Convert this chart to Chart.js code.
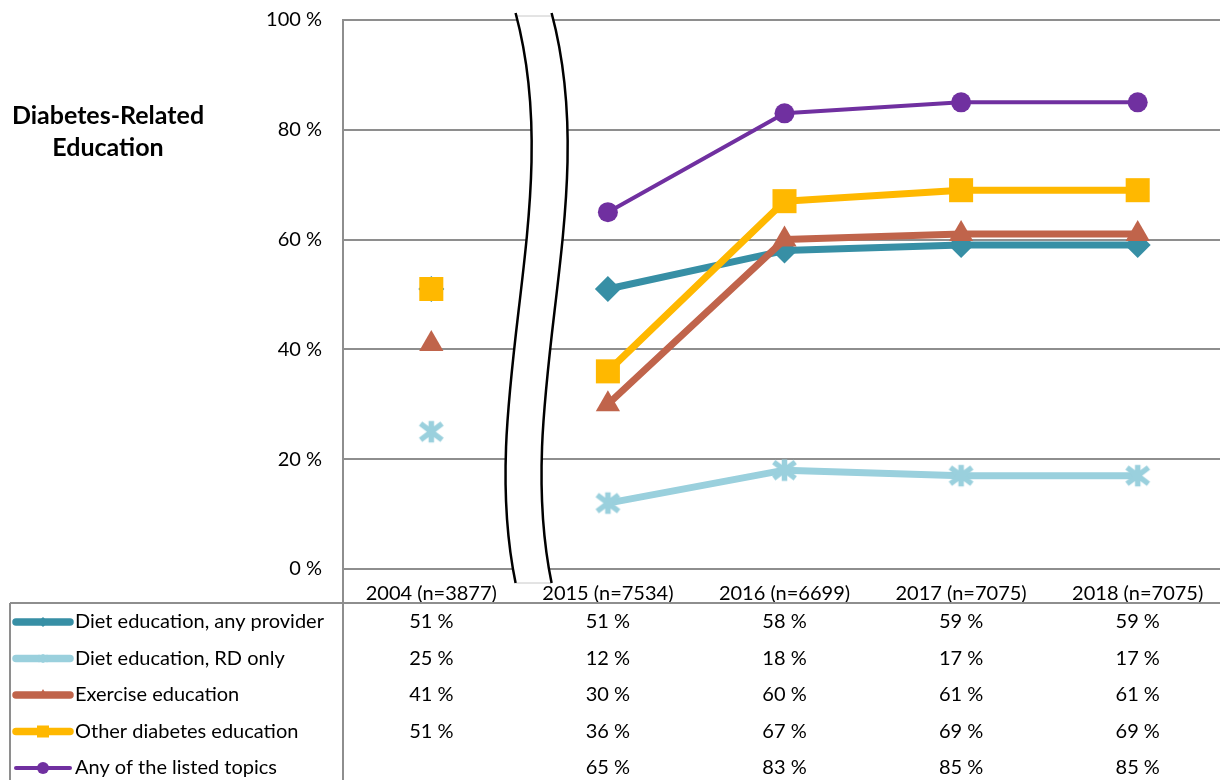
<!DOCTYPE html>
<html>
<head>
<meta charset="utf-8">
<script src="https://cdn.jsdelivr.net/npm/chart.js@4.4.0/dist/chart.umd.min.js"></script>
<style>
  html, body { margin: 0; padding: 0; background: #fff; overflow: hidden; }
  #wrap { width: 1226px; height: 780px; position: relative; }
  canvas { display: block; }
</style>
</head>
<body>
<div id="wrap"><canvas id="chart"></canvas></div>
<script>
// data
const categories = ['2004 (n=3877)', '2015 (n=7534)', '2016 (n=6699)', '2017 (n=7075)', '2018 (n=7075)'];
const seriesNames = ['Diet education, any provider', 'Diet education, RD only', 'Exercise education', 'Other diabetes education', 'Any of the listed topics'];
const dietAny = [51, 51, 58, 59, 59];
const dietRD = [25, 12, 18, 17, 17];
const exercise = [41, 30, 60, 61, 61];
const otherEdu = [51, 36, 67, 69, 69];
const anyTopic = [null, 65, 83, 85, 85];
const yTicks = [0, 20, 40, 60, 80, 100];

const FONT = 'Lato, "Open Sans", sans-serif';
const colors = ['#378FA5', '#9AD0DD', '#C0644B', '#FFB800', '#7030A0'];

// asterisk marker (Excel "star")
function makeAsterisk(size, lw, color) {
    const c = document.createElement('canvas');
    c.width = size; c.height = size;
    const g = c.getContext('2d');
    g.strokeStyle = color;
    g.lineWidth = lw;
    const m = size / 2, p = lw / 2;
    g.beginPath();
    g.moveTo(m, p); g.lineTo(m, size - p);
    g.moveTo(p, size * 0.2); g.lineTo(size - p, size * 0.8);
    g.moveTo(p, size * 0.8); g.lineTo(size - p, size * 0.2);
    g.stroke();
    return c;
}
const starBig = makeAsterisk(27, 5.5, colors[1]);

// no line across the axis break
const hideFirst = { borderColor: ctx => ctx.p0DataIndex === 0 ? 'rgba(0,0,0,0)' : undefined };

function ds(i, data, style, radius, width, order) {
    return {
        label: seriesNames[i],
        data: data,
        borderColor: colors[i],
        backgroundColor: colors[i],
        borderWidth: width,
        borderCapStyle: 'round',
        borderJoinStyle: 'round',
        pointStyle: style,
        pointRadius: radius,
        pointBorderWidth: 0,
        pointHoverRadius: radius,
        segment: hideFirst,
        order: order,
        tension: 0
    };
}

const titlePlugin = {
    id: 'sideTitle',
    afterDraw(chart) {
        const ctx = chart.ctx;
        ctx.save();
        ctx.fillStyle = '#000';
        ctx.font = 'bold 25px ' + FONT;
        ctx.textAlign = 'center';
        ctx.textBaseline = 'middle';
        ctx.fillText('Diabetes-Related', 108, 116);
        ctx.fillText('Education', 108, 148);
        ctx.restore();
    }
};

const breakPlugin = {
    id: 'axisBreak',
    afterDatasetsDraw(chart) {
        const ctx = chart.ctx;
        const x = chart.scales.x;
        const base = (x.getPixelForValue(0) + x.getPixelForValue(1)) / 2 - 4;
        const top = 13, bot = 583, mid1 = top + (bot - top) / 3, mid2 = top + 2 * (bot - top) / 3;
        const gap = 36;
        const curve = (dx) => {
            ctx.moveTo(base + dx, top);
            ctx.bezierCurveTo(base + dx + 51, mid1, base + dx - 39, mid2, base + dx, bot);
        };
        ctx.save();
        // white band
        ctx.beginPath();
        ctx.moveTo(base, top);
        ctx.bezierCurveTo(base + 51, mid1, base - 39, mid2, base, bot);
        ctx.lineTo(base + gap, bot);
        ctx.bezierCurveTo(base + gap - 39, mid2, base + gap + 51, mid1, base + gap, top);
        ctx.closePath();
        ctx.fillStyle = '#fff';
        ctx.fill();
        // faint end caps
        ctx.strokeStyle = '#c8c8c8';
        ctx.lineWidth = 1;
        ctx.beginPath();
        ctx.moveTo(base, top + 3); ctx.lineTo(base + gap, top + 3);
        ctx.moveTo(base, bot); ctx.lineTo(base + gap, bot);
        ctx.stroke();
        // black curves
        ctx.strokeStyle = '#000';
        ctx.lineWidth = 2.5;
        ctx.beginPath();
        curve(0);
        curve(gap);
        ctx.stroke();
        ctx.restore();
    }
};

const tablePlugin = {
    id: 'dataTable',
    afterDraw(chart) {
        const ctx = chart.ctx;
        const x = chart.scales.x;
        const area = chart.chartArea;
        const tableTop = 603, rowY0 = 622, rowH = 36.5;
        ctx.save();
        ctx.strokeStyle = '#8E8E8E';
        ctx.lineWidth = 2;
        ctx.beginPath();
        ctx.moveTo(10, tableTop); ctx.lineTo(chart.width, tableTop);
        ctx.moveTo(10, tableTop); ctx.lineTo(10, 780);
        ctx.moveTo(area.left, area.bottom); ctx.lineTo(area.left, 780);
        ctx.stroke();

        chart.data.datasets.forEach((d, i) => {
            const y = rowY0 + i * rowH;
            // legend key
            ctx.strokeStyle = d.borderColor;
            ctx.fillStyle = d.borderColor;
            ctx.lineWidth = i === 4 ? 4 : 7.5;
            ctx.lineCap = 'round';
            ctx.beginPath();
            ctx.moveTo(16, y); ctx.lineTo(70, y);
            ctx.stroke();
            const mx = 43;
            ctx.beginPath();
            if (i === 0) {
                ctx.moveTo(mx, y - 5); ctx.lineTo(mx + 5, y); ctx.lineTo(mx, y + 5); ctx.lineTo(mx - 5, y);
                ctx.closePath(); ctx.fill();
            } else if (i === 1) {
                ctx.drawImage(makeAsterisk(11, 2, d.borderColor), mx - 5.5, y - 5.5);
            } else if (i === 2) {
                ctx.moveTo(mx, y - 6); ctx.lineTo(mx + 5, y + 3); ctx.lineTo(mx - 5, y + 3);
                ctx.closePath(); ctx.fill();
            } else if (i === 3) {
                ctx.fillRect(mx - 6, y - 6, 12, 12);
            } else {
                ctx.arc(mx, y, 6, 0, Math.PI * 2); ctx.fill();
            }
            // legend text
            ctx.fillStyle = '#000';
            ctx.font = '20px ' + FONT;
            ctx.textAlign = 'left';
            ctx.textBaseline = 'middle';
            ctx.fillText(d.label, 75, y);
            // values
            ctx.textAlign = 'center';
            d.data.forEach((v, j) => {
                if (v == null) return;
                ctx.fillText(Math.round(v) + ' %', x.getPixelForValue(j), y);
            });
        });
        ctx.restore();
    }
};

new Chart(document.getElementById('chart'), {
    type: 'line',
    data: {
        labels: categories,
        datasets: [
            ds(0, dietAny, 'rectRot', 13, 7, 5),
            ds(1, dietRD, starBig, 13, 7, 4),
            ds(2, exercise, 'triangle', 14, 7, 3),
            ds(3, otherEdu, 'rect', 17, 7, 2),
            ds(4, anyTopic, 'circle', 10, 4, 1)
        ]
    },
    options: {
        responsive: true,
        maintainAspectRatio: false,
        animation: false,
        layout: { autoPadding: false, padding: 0 },
        plugins: {
            legend: { display: false },
            tooltip: { enabled: false }
        },
        scales: {
            x: {
                offset: true,
                grid: { display: false },
                border: { display: false },
                ticks: { font: { family: FONT, size: 20 }, color: '#000', padding: 5, maxRotation: 0 },
                afterFit: s => { s.height = 211; }
            },
            y: {
                min: 0,
                max: 100,
                afterBuildTicks: s => { s.ticks = yTicks.map(v => ({ value: v })); },
                grid: { color: '#8E8E8E', lineWidth: 2, drawTicks: false },
                border: { display: true, color: '#8E8E8E', width: 2 },
                ticks: {
                    font: { family: FONT, size: 20 },
                    color: '#000',
                    padding: 21,
                    callback: v => v + ' %'
                },
                afterFit: s => { s.width = 343; s.paddingTop = 20; s.paddingBottom = 0; }
            }
        }
    },
    plugins: [breakPlugin, titlePlugin, tablePlugin]
});
</script>
</body>
</html>
